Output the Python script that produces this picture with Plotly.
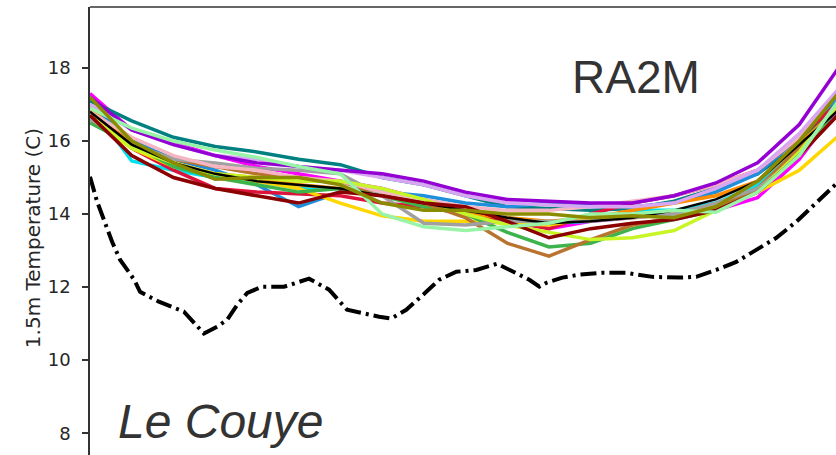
import plotly.graph_objects as go

# ---- data ----
hours = list(range(19))

members = {
    "#ff00ff": [17.3, 16.3, 15.95, 15.6, 15.3, 15.1, 14.9, 14.7, 14.4, 14.1, 13.9, 13.6, 13.8, 13.9, 14.0, 14.1, 14.45, 15.5, 17.0],
    "#008080": [17.1, 16.55, 16.1, 15.85, 15.7, 15.5, 15.35, 15.0, 14.8, 14.5, 14.2, 14.15, 14.1, 14.15, 14.35, 14.7, 15.1, 15.9, 17.2],
    "#1f8fdc": [17.0, 16.0, 15.5, 15.2, 14.8, 14.2, 14.6, 14.6, 14.5, 14.3, 14.2, 14.3, 14.25, 14.2, 14.3, 14.6, 15.1, 16.1, 17.3],
    "#00e0ee": [17.0, 15.45, 15.2, 15.0, 14.9, 14.7, 14.7, 14.6, 14.4, 14.0, 13.9, 13.75, 13.8, 14.1, 14.1, 14.3, 14.8, 15.8, 17.0],
    "#dc143c": [16.8, 15.8, 15.2, 14.7, 14.6, 14.55, 14.5, 14.3, 14.2, 14.0, 13.8, 13.6, 14.0, 14.3, 14.5, 14.8, 15.2, 16.1, 17.1],
    "#ff8c00": [16.9, 15.9, 15.4, 15.1, 15.0, 14.8, 14.7, 14.5, 14.3, 14.0, 13.9, 13.8, 13.9, 14.1, 14.3, 14.5, 14.9, 15.9, 17.0],
    "#ffd700": [16.6, 15.8, 15.3, 15.1, 14.9, 14.7, 14.3, 13.95, 13.8, 13.8, 13.75, 13.7, 13.9, 13.9, 14.0, 14.2, 14.6, 15.2, 16.2],
    "#3cb44b": [16.5, 15.9, 15.3, 15.0, 14.8, 14.6, 14.7, 14.5, 14.2, 14.0, 13.5, 13.1, 13.2, 13.6, 13.85, 14.1, 14.7, 15.6, 17.0],
    "#b8732e": [16.6, 15.9, 15.5, 15.3, 15.1, 15.0, 14.9, 14.5, 14.3, 13.9, 13.2, 12.85, 13.3, 13.7, 13.9, 14.2, 14.7, 15.8, 17.0],
    "#a0a0a0": [16.6, 15.9, 15.5, 15.4, 15.25, 15.2, 15.1, 14.5, 13.75, 13.7, 13.8, 13.8, 13.8, 13.9, 14.0, 14.3, 14.7, 15.6, 16.8],
    "#f4b6c2": [16.8, 16.1, 15.6, 15.3, 15.2, 15.0, 14.9, 14.6, 14.4, 14.2, 14.1, 14.1, 14.2, 14.35, 14.5, 14.8, 15.2, 16.1, 17.4],
    "#d8a6f2": [17.0, 16.3, 15.9, 15.6, 15.5, 15.3, 15.2, 15.0, 14.8, 14.5, 14.3, 14.25, 14.2, 14.2, 14.3, 14.7, 15.2, 16.2, 17.5],
    "#c8f526": [16.7, 15.8, 15.4, 15.1, 15.0, 14.9, 14.9, 14.7, 14.4, 14.0, 13.7, 13.5, 13.3, 13.35, 13.55, 14.1, 14.6, 15.7, 17.1],
    "#000000": [16.8, 15.9, 15.4, 15.1, 14.9, 14.8, 14.7, 14.5, 14.3, 14.1, 13.9, 13.75, 13.8, 13.9, 14.1, 14.4, 14.9, 15.9, 16.9],
    "#8b0000": [16.7, 15.6, 15.0, 14.7, 14.5, 14.3, 14.6, 14.5, 14.3, 14.2, 13.8, 13.35, 13.6, 13.75, 13.85, 14.1, 14.6, 15.6, 16.8],
    "#9400d3": [17.2, 16.3, 15.9, 15.6, 15.4, 15.3, 15.2, 15.1, 14.9, 14.6, 14.4, 14.35, 14.3, 14.3, 14.5, 14.85, 15.4, 16.45, 18.1],
    "#98f5a8": [16.9, 16.35, 16.0, 15.75, 15.55, 15.3, 15.1, 14.0, 13.65, 13.55, 13.65, 13.75, 14.0, 14.0, 14.1, 14.05, 14.6, 15.6, 17.2],
    "#8b8b00": [17.2, 16.0, 15.4, 14.95, 15.0, 15.0, 14.8, 14.3, 14.1, 14.1, 14.0, 14.0, 13.9, 13.95, 13.9, 14.2, 14.9, 16.0, 17.4],
}

obs_hours = [0.0, 0.17, 0.53, 0.72, 1.06, 1.2, 1.65, 1.92, 2.25, 2.49, 2.73, 3.05, 3.29, 3.53, 3.77,
             4.12, 4.65, 5.25, 5.44, 5.73, 6.16, 6.45, 6.93, 7.22, 7.58, 8.06, 8.37, 8.78, 9.26,
             9.76, 10.05, 10.53, 10.77, 10.94, 11.32, 11.73, 12.28, 12.85, 13.48, 14.12, 14.53,
             15.01, 15.49, 16.04, 16.45, 16.93, 17.31, 17.72, 18.0]
obs_temp = [15.02, 14.34, 13.24, 12.75, 12.2, 11.87, 11.6, 11.49, 11.33, 11.03, 10.73, 10.92, 11.11, 11.52, 11.84,
            12.01, 12.01, 12.23, 12.12, 11.93, 11.38, 11.3, 11.19, 11.14, 11.38, 11.87, 12.2, 12.42, 12.47,
            12.64, 12.47, 12.2, 12.01, 12.12, 12.26, 12.34, 12.39, 12.39, 12.28, 12.26, 12.28,
            12.47, 12.69, 13.07, 13.35, 13.79, 14.2, 14.67, 14.95]

y_ticks = [8, 10, 12, 14, 16, 18]

# ---- figure ----
fig = go.Figure()
for color, vals in members.items():
    w = 2.5 if color == "#000000" else 3.5
    fig.add_trace(go.Scatter(x=hours, y=vals, mode="lines",
                             line=dict(color=color, width=w), showlegend=False))

fig.add_trace(go.Scatter(x=obs_hours, y=obs_temp, mode="lines",
                         line=dict(color="black", width=4, dash="16px,5px,3px,5px"),
                         showlegend=False))

fig.update_layout(
    width=836, height=455,
    margin=dict(l=90, r=0, t=7, b=0, autoexpand=False),
    paper_bgcolor="white", plot_bgcolor="white",
    xaxis=dict(range=[0, 17.88], visible=False),
    yaxis=dict(range=[7.405, 19.666], tickvals=y_ticks, ticks="outside", ticklen=6,
               tickwidth=1.5, tickcolor="#333333", showline=True, linecolor="#333333",
               linewidth=1.5, showgrid=False, zeroline=False,
               tickfont=dict(family="DejaVu Sans", size=18, color="#262626"),
               ticklabelstandoff=8),
    shapes=[dict(type="line", xref="paper", yref="paper", x0=0, x1=1, y0=1, y1=1,
                 line=dict(color="#333333", width=1.5))],
    annotations=[
        dict(text="1.5m Temperature (C)", xref="paper", yref="paper", x=0, y=0.484,
             xshift=-57, xanchor="center", yanchor="middle", textangle=-90, showarrow=False,
             font=dict(family="DejaVu Sans", size=20, color="#262626")),
        dict(text="RA2M", xref="paper", yref="paper", x=(636 - 90) / 746, y=(455 - 77) / 448,
             showarrow=False, xanchor="center", yanchor="middle",
             font=dict(family="Liberation Sans", size=46, color="#333333")),
        dict(text="<i>Le Couye</i>", xref="paper", yref="paper", x=(116 - 90) / 746, y=(455 - 421) / 448,
             showarrow=False, xanchor="left", yanchor="middle",
             font=dict(family="Liberation Sans", size=48, color="#333333")),
    ],
)

fig.write_html("out.html")
